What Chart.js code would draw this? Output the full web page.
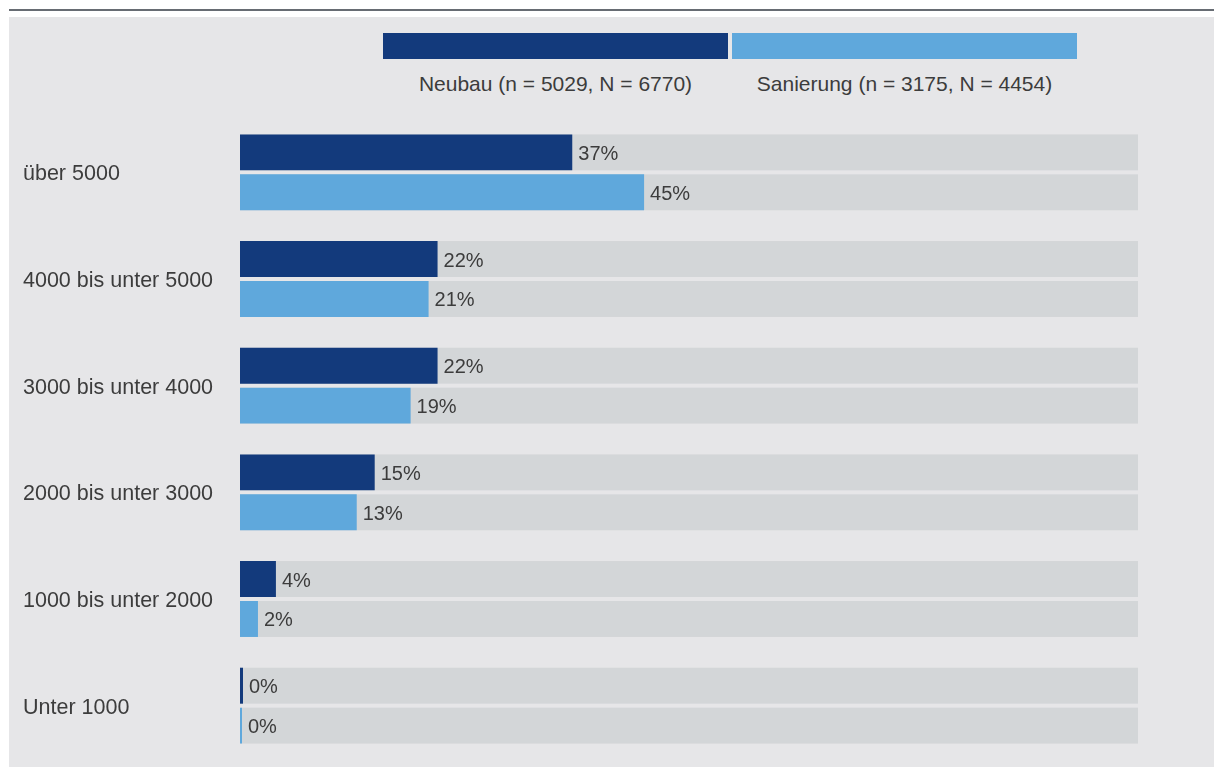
<!DOCTYPE html>
<html lang="de">
<head>
<meta charset="utf-8">
<title>Neubau / Sanierung</title>
<script src="https://cdn.jsdelivr.net/npm/chart.js@4/dist/chart.umd.min.js"></script>
<style>
  html, body { margin: 0; padding: 0; background: #ffffff; }
  body { width: 1214px; height: 767px; position: relative; overflow: hidden; font-family: "Liberation Sans", Arial, sans-serif; }
  #regel { position: absolute; left: 9px; top: 9px; width: 1205px; height: 2px; background: #676c73; }
  #panel { position: absolute; left: 9px; top: 17px; width: 1205px; height: 750px; background: #e6e6e8; }
  #legende { position: absolute; left: 383px; top: 33px; display: flex; gap: 4px; }
  .eintrag { width: 345px; text-align: center; }
  .kasten { height: 26px; }
  .text { margin-top: 13px; font-size: 21px; color: #3c3c3c; white-space: nowrap; }
  #rahmen { position: absolute; left: 0; top: 0; width: 1214px; height: 767px; }
</style>
</head>
<body>
<div id="regel"></div>
<div id="panel"></div>
<div id="legende"></div>
<div id="rahmen"><canvas id="balken"></canvas></div>
<script>
// Kategorien (von oben nach unten)
const kategorien = ['über 5000', '4000 bis unter 5000', '3000 bis unter 4000', '2000 bis unter 3000', '1000 bis unter 2000', 'Unter 1000'];

// Anteile in Prozent
const neubau = [37, 22, 22, 15, 4, 0];
const sanierung = [45, 21, 19, 13, 2, 0];

const serienNamen = ['Neubau (n = 5029, N = 6770)', 'Sanierung (n = 3175, N = 4454)'];
const farbeNeubau = '#133a7c';
const farbeSanierung = '#5fa8dc';
const farbeSpur = '#d3d6d8';
const textFarbe = '#3c3c3c';

// graue Hintergrundspur von 0 bis 100 % hinter jedem Balken
const spurPlugin = {
    id: 'spur',
    beforeDatasetsDraw(chart) {
        const ctx = chart.ctx;
        const x = chart.scales.x;
        const x0 = x.getPixelForValue(0);
        const x1 = x.getPixelForValue(100);
        ctx.save();
        ctx.fillStyle = farbeSpur;
        chart.data.datasets.forEach((ds, i) => {
            chart.getDatasetMeta(i).data.forEach(bar => {
                const p = bar.getProps(['y', 'height'], true);
                ctx.fillRect(x0, p.y - p.height / 2, x1 - x0, p.height);
            });
        });
        ctx.restore();
    }
};

// Prozentwerte rechts neben den Balken
const wertPlugin = {
    id: 'werte',
    afterDatasetsDraw(chart) {
        const ctx = chart.ctx;
        ctx.save();
        ctx.font = '20px "Liberation Sans", Arial, sans-serif';
        ctx.fillStyle = textFarbe;
        ctx.textAlign = 'left';
        ctx.textBaseline = 'middle';
        chart.data.datasets.forEach((ds, i) => {
            chart.getDatasetMeta(i).data.forEach((bar, j) => {
                const p = bar.getProps(['x', 'y'], true);
                ctx.fillText(ds.data[j] + '%', p.x + 6, p.y + 2);
            });
        });
        ctx.restore();
    }
};

const datensaetze = [
    { label: serienNamen[0], data: neubau, backgroundColor: farbeNeubau, minBarLength: 3 },
    { label: serienNamen[1], data: sanierung, backgroundColor: farbeSanierung, minBarLength: 2 }
];

// Legende oberhalb: Farbkasten mit Text darunter
const legende = document.getElementById('legende');
datensaetze.forEach(ds => {
    const e = document.createElement('div');
    e.className = 'eintrag';
    const k = document.createElement('div');
    k.className = 'kasten';
    k.style.background = ds.backgroundColor;
    const t = document.createElement('div');
    t.className = 'text';
    t.textContent = ds.label;
    e.appendChild(k);
    e.appendChild(t);
    legende.appendChild(e);
});

const ctx = document.getElementById('balken').getContext('2d');
new Chart(ctx, {
    type: 'bar',
    data: {
        labels: kategorien,
        datasets: datensaetze
    },
    plugins: [spurPlugin, wertPlugin],
    options: {
        indexAxis: 'y',
        responsive: true,
        maintainAspectRatio: false,
        animation: false,
        categoryPercentage: 0.749,
        barPercentage: 0.9,
        layout: {
            padding: { top: 119, bottom: 8, left: 23, right: 76 }
        },
        plugins: {
            legend: { display: false },
            tooltip: { enabled: false }
        },
        scales: {
            x: {
                display: false,
                min: 0,
                max: 100
            },
            y: {
                grid: { display: false },
                border: { display: false },
                afterFit(scale) {
                    scale.width = 217;
                    scale.paddingTop = 0;
                    scale.paddingBottom = 0;
                },
                ticks: {
                    crossAlign: 'far',
                    labelOffset: 2,
                    color: textFarbe,
                    font: { family: '"Liberation Sans", Arial, sans-serif', size: 21.5 }
                }
            }
        }
    }
});
</script>
</body>
</html>
